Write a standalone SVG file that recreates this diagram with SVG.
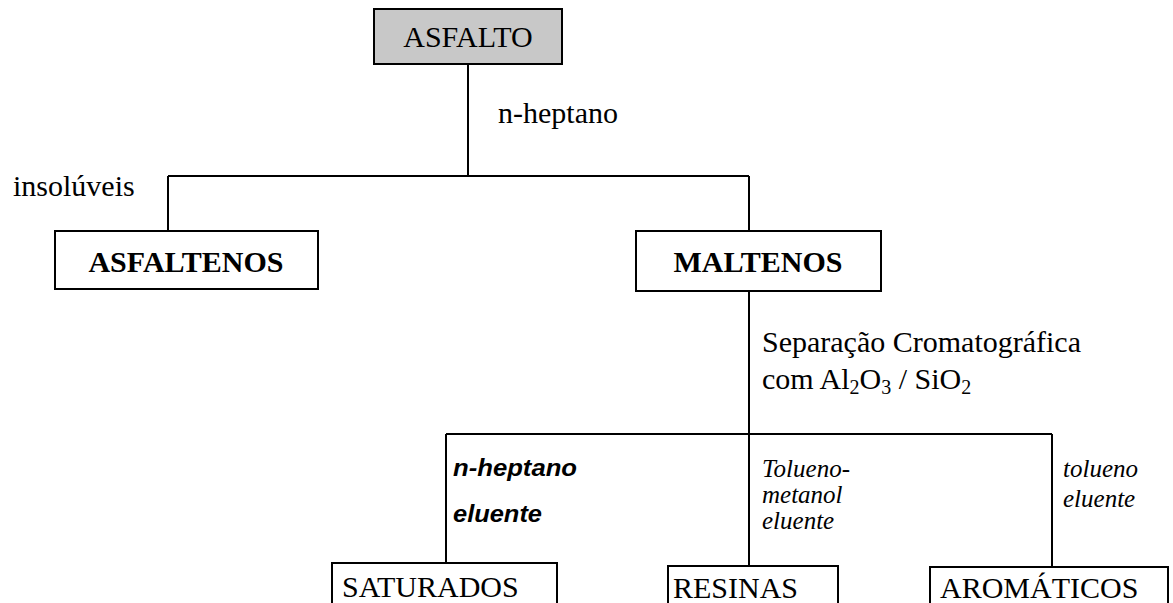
<svg xmlns="http://www.w3.org/2000/svg" width="1173" height="603" viewBox="0 0 1173 603">
<style>
.box{fill:#fff;stroke:#000;stroke-width:2}
.gray{fill:#c8c8c8}
.t{font-family:"Liberation Serif","Times New Roman",serif;font-size:30px;fill:#000}
.b{font-weight:bold}
.it{font-family:"Liberation Serif","Times New Roman",serif;font-style:italic;font-size:25px;fill:#000}
.bi{font-family:"Liberation Sans",Arial,sans-serif;font-style:italic;font-weight:bold;font-size:24px;fill:#000}
.c{text-anchor:middle}
.ln{stroke:#000;stroke-width:2;fill:none}
</style>
<rect width="1173" height="603" fill="#fff"/>
<g id="connectors">
<path class="ln" d="M468 64V176M168 176H749M168 176V231M749 176V231"/>
<path class="ln" d="M749 291V566M446 434H1052M446 434V563M1052 434V567"/>
</g>
<g id="labels">
<text class="t" x="498" y="123">n-heptano</text>
<text class="t" x="13" y="196">insolúveis</text>
<text class="t" x="762" y="352">Separação Cromatográfica</text>
<text class="t" x="762" y="389">com Al<tspan font-size="20" dy="5">2</tspan><tspan dy="-5">O</tspan><tspan font-size="20" dy="5">3</tspan><tspan dy="-5"> / SiO</tspan><tspan font-size="20" dy="5">2</tspan></text>
<text class="bi" x="453" y="476" textLength="124" lengthAdjust="spacingAndGlyphs">n-heptano</text>
<text class="bi" x="453" y="522" textLength="89" lengthAdjust="spacingAndGlyphs">eluente</text>
<text class="it" x="762" y="477">Tolueno-</text>
<text class="it" x="762" y="503">metanol</text>
<text class="it" x="762" y="529">eluente</text>
<text class="it" x="1063" y="477">tolueno</text>
<text class="it" x="1063" y="507">eluente</text>
</g>
<g id="asfalto">
<rect class="box gray" x="374" y="9" width="188" height="55"/>
<text class="t c" x="468" y="47">ASFALTO</text>
</g>
<g id="asfaltenos">
<rect class="box" x="55" y="231" width="263" height="58"/>
<text class="t b c" x="186" y="272">ASFALTENOS</text>
</g>
<g id="maltenos">
<rect class="box" x="636" y="231" width="245" height="60"/>
<text class="t b c" x="758" y="272">MALTENOS</text>
</g>
<g id="saturados">
<rect class="box" x="332" y="563" width="225" height="50"/>
<text class="t" x="342" y="597">SATURADOS</text>
</g>
<g id="resinas">
<rect class="box" x="668" y="566" width="170" height="50"/>
<text class="t" x="673" y="598">RESINAS</text>
</g>
<g id="aromaticos">
<rect class="box" x="930" y="567" width="238" height="50"/>
<text class="t" x="940" y="598">AROMÁTICOS</text>
</g>
</svg>
